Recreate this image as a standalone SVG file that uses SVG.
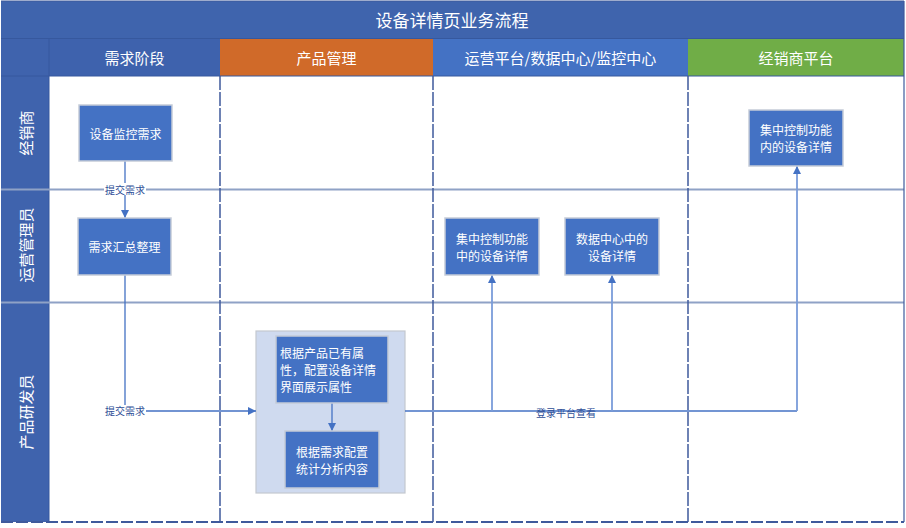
<svg xmlns="http://www.w3.org/2000/svg" width="906" height="528" viewBox="0 0 906 528">
<style>
text{font-family:"Noto Sans CJK SC","Liberation Sans",sans-serif;}
.hdr{fill:#fff;font-size:15px;text-anchor:middle;dominant-baseline:central;}
.lane{fill:#fff;font-size:15px;text-anchor:middle;dominant-baseline:central;}
.node rect{fill:#4472C4;stroke:#C5CCD8;stroke-width:1.5;}
.node text{fill:#fff;font-size:12px;dominant-baseline:central;}
.c{text-anchor:middle;}
.sep{stroke:#8FA2C6;stroke-width:2;}
.col{stroke:#3F5A9C;stroke-width:1.5;stroke-dasharray:14 2;}
.ln{fill:none;stroke:#4472C4;stroke-width:1.3;}
.ln2{fill:none;stroke:#7A9CDA;stroke-width:1.8;}
.lbl{fill:#2E4E96;font-size:10px;text-anchor:middle;dominant-baseline:central;}
</style>
<defs>
<marker id="ah" viewBox="0 0 10 10" refX="10" refY="5" markerWidth="8" markerHeight="8" markerUnits="userSpaceOnUse" orient="auto"><path d="M0,0L10,5L0,10z" fill="#4472C4"/></marker>
</defs>
<rect x="0" y="0" width="906" height="528" fill="#fff"/>
<g id="frame">
<rect x="1" y="1" width="903" height="37" fill="#3F64AD"/>
<text x="452" y="19" fill="#fff" font-size="17" text-anchor="middle" dominant-baseline="central">设备详情页业务流程</text>
<rect x="1" y="38" width="48" height="484" fill="#3F63AD"/>
<rect x="49" y="38" width="171" height="38" fill="#3E62AD"/>
<rect x="220" y="38" width="213" height="38" fill="#D06A29"/>
<rect x="433" y="38" width="255" height="38" fill="#4472C4"/>
<rect x="688" y="38" width="216" height="38" fill="#70AD47"/>
<line x1="1" y1="38.5" x2="904" y2="38.5" stroke="#36589E" stroke-width="1"/>
<line x1="1" y1="76" x2="904" y2="76" stroke="#36589E" stroke-width="1"/>
<line x1="49" y1="38" x2="49" y2="522" stroke="#36589E" stroke-width="1"/>
<text class="hdr" x="134.5" y="57">需求阶段</text>
<text class="hdr" x="326.5" y="57">产品管理</text>
<text class="hdr" x="560.5" y="57">运营平台/数据中心/监控中心</text>
<text class="hdr" x="796" y="57">经销商平台</text>
<text class="lane" transform="translate(25,133) rotate(-90)">经销商</text>
<text class="lane" transform="translate(25,245) rotate(-90)">运营管理员</text>
<text class="lane" transform="translate(25,412) rotate(-90)">产品研发员</text>
<line class="sep" x1="1" y1="189.5" x2="904" y2="189.5"/>
<line class="sep" x1="1" y1="302.5" x2="904" y2="302.5"/>
<line class="col" x1="220" y1="76" x2="220" y2="522"/>
<line class="col" x1="433" y1="76" x2="433" y2="522"/>
<line class="col" x1="688" y1="76" x2="688" y2="522"/>
<line x1="904" y1="1" x2="904" y2="522" stroke="#3F5A9C" stroke-width="1.2"/>
<line x1="1" y1="1" x2="904" y2="1" stroke="#3F5A9C" stroke-width="1.2"/>
<line x1="1" y1="522" x2="904" y2="522" stroke="#3F5A9C" stroke-width="2.2" stroke-dasharray="12 3"/>
</g>
<rect id="container" x="256" y="331" width="149" height="162" fill="#CFDAEF" stroke="#C4C8CF" stroke-width="1.2"/>
<g id="connectors">
<line class="ln" x1="125" y1="161" x2="125" y2="218" marker-end="url(#ah)"/>
<rect x="104" y="183" width="42" height="12" fill="#fff"/>
<text class="lbl" x="125" y="189">提交需求</text>
<path class="ln" d="M125,275V411H256" marker-end="url(#ah)"/>
<rect x="104" y="405" width="42" height="12" fill="#fff"/>
<text class="lbl" x="125" y="410">提交需求</text>
<line class="ln" x1="332" y1="403" x2="332" y2="431" marker-end="url(#ah)"/>
<path class="ln" d="M405,411H797"/>
<line class="ln2" x1="492" y1="411" x2="492" y2="275" marker-end="url(#ah)"/>
<line class="ln2" x1="612" y1="411" x2="612" y2="275" marker-end="url(#ah)"/>
<line class="ln2" x1="797" y1="411" x2="797" y2="166" marker-end="url(#ah)"/>
<text class="lbl" x="566" y="412">登录平台查看</text>
</g>
<g id="n1" class="node"><rect x="79" y="105" width="93" height="56"/><text class="c" x="125.5" y="133">设备监控需求</text></g>
<g id="n2" class="node"><rect x="78" y="218" width="93" height="57"/><text class="c" x="124.5" y="246.5">需求汇总整理</text></g>
<g id="n3" class="node"><rect x="276" y="336" width="112" height="67"/><text x="280" y="352">根据产品已有属</text><text x="280" y="369">性，配置设备详情</text><text x="280" y="386">界面展示属性</text></g>
<g id="n4" class="node"><rect x="285" y="431" width="94" height="57"/><text class="c" x="332" y="451">根据需求配置</text><text class="c" x="332" y="468">统计分析内容</text></g>
<g id="n5" class="node"><rect x="445" y="218" width="94" height="57"/><text class="c" x="492" y="238">集中控制功能</text><text class="c" x="492" y="255">中的设备详情</text></g>
<g id="n6" class="node"><rect x="565" y="218" width="94" height="57"/><text class="c" x="612" y="238">数据中心中的</text><text class="c" x="612" y="255">设备详情</text></g>
<g id="n7" class="node"><rect x="749" y="110" width="94" height="56"/><text class="c" x="796" y="129">集中控制功能</text><text class="c" x="796" y="146">内的设备详情</text></g>
</svg>
